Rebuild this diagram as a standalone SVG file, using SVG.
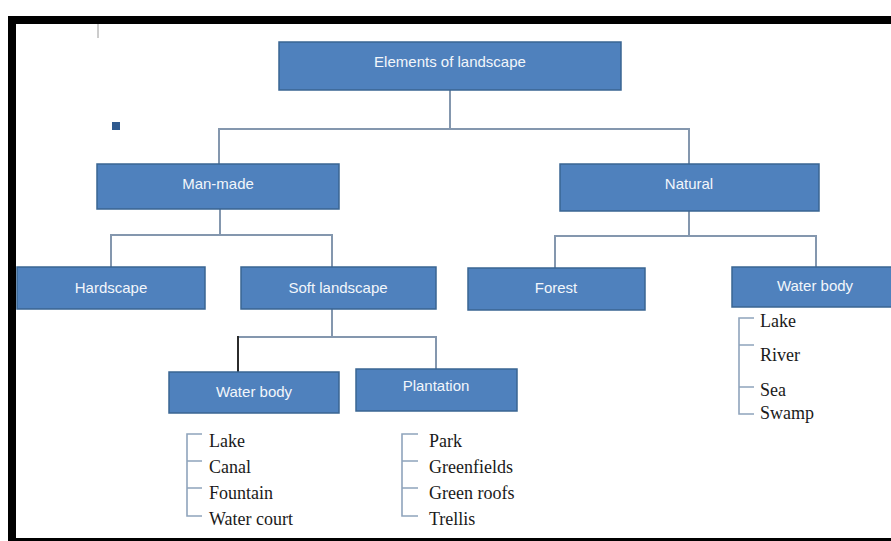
<svg xmlns="http://www.w3.org/2000/svg" width="891" height="541" viewBox="0 0 891 541">
<style>
.box{fill:#4F81BD;stroke:#3A6592;stroke-width:1.5}
.lbl{font-family:"Liberation Sans",Arial,sans-serif;font-size:15px;fill:#F2F6FB;text-anchor:middle}
.item{font-family:"Liberation Serif","Times New Roman",serif;font-size:18px;fill:#1a1a1a}
.ln{fill:none;stroke:#8497AE;stroke-width:2}
.dk{fill:none;stroke:#2b2b2b;stroke-width:2}
.br{fill:none;stroke:#8FA4BC;stroke-width:1.6}
</style>
<rect width="891" height="541" fill="#FFFFFF"/>
<g id="frame">
<rect x="8" y="16" width="883" height="8" fill="#000"/>
<rect x="8" y="16" width="8" height="525" fill="#000"/>
<rect x="8" y="538" width="883" height="3" fill="#000"/>
<line x1="98" y1="24" x2="98" y2="38" stroke="#9a9a9a" stroke-width="1"/>
<rect x="112" y="122" width="8" height="8" fill="#2F5A8F"/>
</g>
<g id="connectors">
<path class="ln" d="M450 90 V129 M219 164 V129 H689 V164"/>
<path class="ln" d="M689 211 V236 M555 268 V236 H816 V267"/>
<path class="ln" d="M220 209 V235 M111 267 V235 H332 V267"/>
<path class="ln" d="M332 309 V337 M238 337 H436 V369"/>
<path class="dk" d="M238 336 V372"/>
<path class="br" d="M202 434 H187 V516 H202 M187 461 H202 M187 488 H202"/>
<path class="br" d="M418 434 H402 V516 H418 M402 461 H418 M402 488 H418"/>
<path class="br" d="M754 318 H739 V414 H754 M739 345 H754 M739 387 H754"/>
</g>
<g id="n-root"><rect class="box" x="279" y="42" width="342" height="48"/><text class="lbl" x="450" y="67">Elements of landscape</text></g>
<g id="n-manmade"><rect class="box" x="97" y="164" width="242" height="45"/><text class="lbl" x="218" y="189">Man-made</text></g>
<g id="n-natural"><rect class="box" x="560" y="164" width="259" height="47"/><text class="lbl" x="689" y="189">Natural</text></g>
<g id="n-hardscape"><rect class="box" x="17" y="267" width="188" height="42"/><text class="lbl" x="111" y="293">Hardscape</text></g>
<g id="n-soft"><rect class="box" x="241" y="267" width="195" height="42"/><text class="lbl" x="338" y="293">Soft landscape</text></g>
<g id="n-forest"><rect class="box" x="468" y="268" width="177" height="42"/><text class="lbl" x="556" y="293">Forest</text></g>
<g id="n-waterbody-r"><rect class="box" x="732" y="267" width="170" height="40"/><text class="lbl" x="815" y="291">Water body</text></g>
<g id="n-waterbody-l"><rect class="box" x="169" y="372" width="170" height="41"/><text class="lbl" x="254" y="397">Water body</text></g>
<g id="n-plantation"><rect class="box" x="356" y="369" width="161" height="42"/><text class="lbl" x="436" y="391">Plantation</text></g>
<g id="list-waterbody-l">
<text class="item" x="209" y="447">Lake</text>
<text class="item" x="209" y="473">Canal</text>
<text class="item" x="209" y="499">Fountain</text>
<text class="item" x="209" y="525">Water court</text>
</g>
<g id="list-plantation">
<text class="item" x="429" y="447">Park</text>
<text class="item" x="429" y="473">Greenfields</text>
<text class="item" x="429" y="499">Green roofs</text>
<text class="item" x="429" y="525">Trellis</text>
</g>
<g id="list-waterbody-r">
<text class="item" x="760" y="327">Lake</text>
<text class="item" x="760" y="361">River</text>
<text class="item" x="760" y="396">Sea</text>
<text class="item" x="760" y="419">Swamp</text>
</g>
</svg>
